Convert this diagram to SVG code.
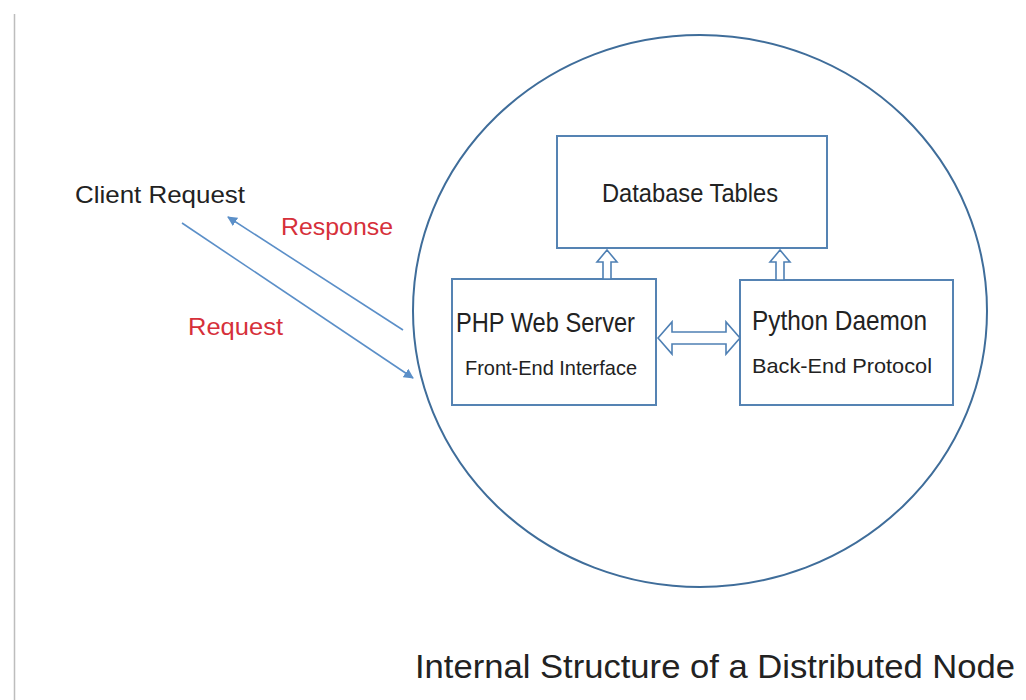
<svg xmlns="http://www.w3.org/2000/svg" width="1026" height="700" viewBox="0 0 1026 700">
<style>
.box{fill:#fff;stroke:#5583b3;stroke-width:2}
.hol{fill:#fff;stroke:#4f80b4;stroke-width:1.6;stroke-linejoin:miter}
.t{font-family:"Liberation Sans",Arial,sans-serif;fill:#222}
.r{font-family:"Liberation Sans",Arial,sans-serif;fill:#d6303a}
.ln{stroke:#5b8fc8;stroke-width:1.6;fill:none}
</style>
<defs>
<marker id="ah" viewBox="0 0 10 10" refX="9" refY="5" markerWidth="10" markerHeight="10" markerUnits="userSpaceOnUse" orient="auto">
<path d="M0,0 L10,5 L0,10 z" fill="#5b8fc8"/>
</marker>
</defs>
<rect width="1026" height="700" fill="#fff"/>
<line x1="14.5" y1="14" x2="14.5" y2="700" stroke="#bdbdbd" stroke-width="1.5"/>
<g id="node-boundary">
<ellipse cx="700" cy="311" rx="287" ry="276" fill="none" stroke="#3f6d9a" stroke-width="2"/>
</g>
<g id="db">
<rect class="box" x="557" y="136" width="270" height="112"/>
<text class="t" x="602" y="202" font-size="25" textLength="176" lengthAdjust="spacingAndGlyphs">Database Tables</text>
</g>
<g id="php">
<rect class="box" x="452" y="279" width="204" height="126"/>
<text class="t" x="456" y="332" font-size="28" textLength="179" lengthAdjust="spacingAndGlyphs">PHP Web Server</text>
<text class="t" x="465" y="375" font-size="21" textLength="172" lengthAdjust="spacingAndGlyphs">Front-End Interface</text>
</g>
<g id="python">
<rect class="box" x="740" y="280" width="213" height="125"/>
<text class="t" x="752" y="330" font-size="28" textLength="175" lengthAdjust="spacingAndGlyphs">Python Daemon</text>
<text class="t" x="752" y="373" font-size="21" textLength="180" lengthAdjust="spacingAndGlyphs">Back-End Protocol</text>
</g>
<g id="client">
<text class="t" x="75" y="203" font-size="24" textLength="170" lengthAdjust="spacingAndGlyphs">Client Request</text>
</g>
<g id="title">
<text class="t" x="415" y="678" font-size="33" textLength="600" lengthAdjust="spacingAndGlyphs">Internal Structure of a Distributed Node</text>
</g>
<g id="connectors">
<polygon class="hol" points="603,279 603,262 597,262 607,250 617,262 611,262 611,279"/>
<polygon class="hol" points="776,280 776,262 770,262 780,250 790,262 784,262 784,280"/>
<polygon class="hol" points="658,338 672,322 672,332 726,332 726,322 740,338 726,354 726,344 672,344 672,354"/>
<line class="ln" x1="403" y1="330" x2="228" y2="217" marker-end="url(#ah)"/>
<line class="ln" x1="182" y1="223" x2="413" y2="378" marker-end="url(#ah)"/>
<text class="r" x="281" y="235" font-size="24" textLength="112" lengthAdjust="spacingAndGlyphs">Response</text>
<text class="r" x="188" y="335" font-size="24" textLength="95" lengthAdjust="spacingAndGlyphs">Request</text>
</g>
</svg>
